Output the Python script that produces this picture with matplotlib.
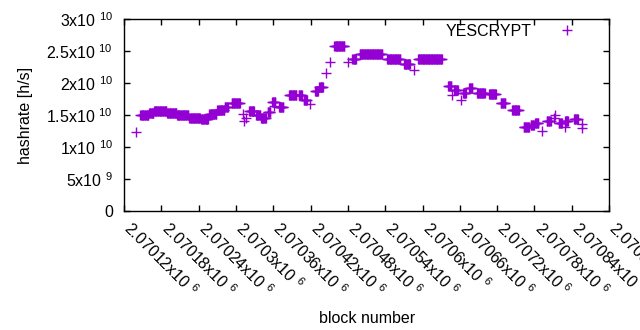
import numpy as np
import matplotlib
matplotlib.use("Agg")
import matplotlib.pyplot as plt
import matplotlib.transforms as mtransforms
from matplotlib.ticker import FixedLocator, FuncFormatter

plt.rcParams["font.family"] = ["Liberation Sans", "DejaVu Sans"]
plt.rcParams["mathtext.fontset"] = "custom"
plt.rcParams["mathtext.rm"] = "Liberation Sans"
plt.rcParams["mathtext.default"] = "regular"

# runs of blocks with the same estimated hashrate (block offset from 2070000, value in 1e10 h/s)
seg_start = [146, 160, 168, 189, 205, 225, 244, 257, 270, 282, 293, 321, 332, 340, 351,
             358, 369, 385, 401, 409, 427, 434, 458, 487, 499, 543, 570, 593, 641, 651,
             665, 675, 688, 707, 726, 744, 763, 774, 781, 800, 819, 829, 844]
seg_end = [159, 167, 188, 204, 223, 242, 255, 268, 281, 287, 306, 329, 339, 348, 355,
           363, 376, 397, 406, 414, 432, 440, 474, 493, 535, 564, 580, 631, 646, 657,
           670, 680, 700, 718, 733, 755, 771, 779, 786, 806, 824, 834, 850]
seg_value = [1.50, 1.53, 1.56, 1.53, 1.50, 1.46, 1.44, 1.51, 1.58, 1.62, 1.69, 1.56, 1.50, 1.46, 1.55,
             1.71, 1.62, 1.81, 1.81, 1.74, 1.88, 1.94, 2.58, 2.38, 2.45, 2.38, 2.30, 2.37, 1.95, 1.89,
             1.84, 1.92, 1.84, 1.83, 1.68, 1.58, 1.31, 1.34, 1.37, 1.41, 1.37, 1.40, 1.43]

# isolated blocks
single_block = [139, 311, 313, 316, 361, 419, 445, 451, 480, 586, 647, 662, 792, 811, 813, 829, 856, 856]
single_value = [1.23, 1.52, 1.40, 1.46, 1.64, 1.67, 2.16, 2.33, 2.33, 2.21, 1.81, 1.73, 1.25, 1.45, 1.50, 1.32, 1.30, 1.36]

xticks = [2070120 + 60 * i for i in range(14)]
yticks = [0, 5e9, 1e10, 1.5e10, 2e10, 2.5e10, 3e10]

blocks, rates = [], []
for s, e, v in zip(seg_start, seg_end, seg_value):
    for b in range(s, e + 1):
        blocks.append(2070000 + b)
        rates.append(v * 1e10)
for b, v in zip(single_block, single_value):
    blocks.append(2070000 + b)
    rates.append(v * 1e10)
blocks = np.array(blocks)
rates = np.array(rates)


def sci_label(v, pos=None):
    if v == 0:
        return "0"
    exp = int(np.floor(np.log10(abs(v))))
    mant = v / 10 ** exp
    return "%gx10 $^{%d}$" % (round(mant, 6), exp)


fig = plt.figure(figsize=(6.4, 3.3), dpi=100)
ax = fig.add_axes([0.194, 0.3606, 0.7576, 0.5818])
ax.plot(blocks, rates, linestyle="none", marker="+", markersize=6.5, markeredgewidth=1.0,
        color="#9400d3", label="YESCRYPT")

ax.set_xlim(2070120, 2070900)
ax.set_ylim(0, 3e10)
ax.xaxis.set_major_locator(FixedLocator(xticks))
ax.yaxis.set_major_locator(FixedLocator(yticks))
ax.xaxis.set_major_formatter(FuncFormatter(sci_label))
ax.yaxis.set_major_formatter(FuncFormatter(sci_label))
ax.tick_params(direction="in", length=4, width=1, top=True, right=True, labelsize=11.5, colors="black")
ax.tick_params(axis="y", pad=8)
ax.tick_params(axis="x", pad=6)
shift = mtransforms.ScaledTranslation(0.03, -0.06, fig.dpi_scale_trans)
for lab in ax.get_xticklabels():
    lab.set_rotation(-45)
    lab.set_ha("left")
    lab.set_va("center")
    lab.set_rotation_mode("anchor")
    lab.set_transform(lab.get_transform() + shift)
for sp in ax.spines.values():
    sp.set_linewidth(1)
    sp.set_color("black")

ax.set_xlabel("block number", fontsize=11.5, labelpad=8)
ax.set_ylabel("hashrate [h/s]", fontsize=11.5, labelpad=10)
ax.legend(loc="upper right", bbox_to_anchor=(0.946, 0.975), frameon=False, markerfirst=False,
          fontsize=11.5, handlelength=2.0, handletextpad=1.2, borderpad=0, borderaxespad=0)

fig.savefig("out.png", dpi=100)
